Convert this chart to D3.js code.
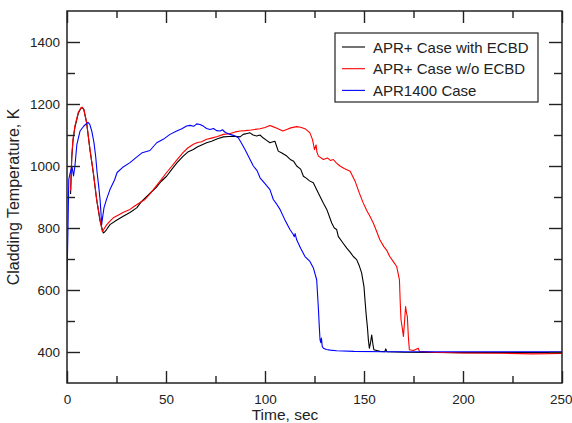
<!DOCTYPE html>
<html>
<head>
<meta charset="utf-8">
<script src="https://cdn.jsdelivr.net/npm/d3@7"></script>
<style>
  body { margin: 0; background: #fff; }
  svg text { font-family: "Liberation Sans", Arial, sans-serif; fill: #222; }
</style>
</head>
<body>
<svg id="chart" width="572" height="423"></svg>
<script>
// APR1400 Case (blue)
const blueT = [0, 0.5, 0.9, 1.5, 2.5, 3.3, 4.0, 5.0, 6.6, 8.5, 10.1, 10.6, 11.5, 12.5, 13.6, 14.5, 15.2, 16.0, 16.7, 17.2, 17.5, 18.0, 18.7, 20.0, 21.7, 24.0, 25.3, 28.0, 31.8, 35.0, 38.0, 41.9, 45.3, 48.6, 52.0, 55.4, 58.0, 60.4, 62.1, 64.0, 65.5, 67.2, 69.0, 70.5, 72.2, 74.0, 75.5, 77.3, 78.5, 80.0, 82.3, 84.5, 86.5, 88.0, 89.9, 92.0, 94.1, 96.0, 97.5, 100.0, 102.5, 104.2, 106.0, 107.6, 110.0, 112.6, 114.3, 114.8, 115.2, 116.0, 118.0, 120.2, 122.7, 124.5, 126.1, 126.6, 127.0, 127.4, 127.8, 128.2, 128.5, 128.9, 129.5, 131.0, 133.0, 136.2, 145, 160, 200, 250];
const blueK = [633, 800, 957, 975, 998, 968, 1000, 1070, 1113, 1129, 1138, 1141, 1134, 1113, 1076, 1030, 979, 935, 892, 845, 811, 835, 866, 893, 924, 955, 979, 995, 1011, 1028, 1043, 1050, 1075, 1086, 1102, 1113, 1120, 1129, 1131, 1128, 1136, 1134, 1128, 1121, 1118, 1121, 1114, 1113, 1117, 1108, 1102, 1098, 1091, 1075, 1053, 1027, 1000, 985, 962, 943, 924, 892, 876, 860, 827, 795, 779, 772, 782, 762, 735, 708, 692, 670, 633, 580, 536, 485, 439, 430, 445, 418, 412, 408, 406, 404, 402, 401, 401, 401];

// APR+ Case w/o ECBD (red)
const redT = [1.8, 2.4, 3.0, 4.0, 5.7, 7.0, 7.6, 8.5, 9.9, 11.6, 13.3, 15.0, 16.7, 17.8, 18.5, 20.0, 21.7, 23.4, 26.0, 28.5, 31.8, 34.0, 36.9, 39.4, 41.9, 45.0, 47.5, 50.3, 53.0, 55.5, 58.7, 61.0, 63.8, 66.0, 68.0, 70.5, 73.0, 76.0, 79.0, 82.0, 85.0, 87.4, 90.0, 93.0, 95.0, 97.5, 100.0, 102.5, 104.0, 106.0, 109.0, 111.0, 113.0, 116.0, 118.0, 120.5, 122.7, 124.0, 125.0, 125.8, 126.2, 127.0, 129.5, 131.5, 133.0, 134.5, 136.0, 137.9, 140.0, 143.0, 145.5, 147.5, 149.6, 151.5, 153.0, 154.7, 156.0, 158.0, 160.0, 161.5, 163.0, 165.0, 166.5, 167.9, 168.3, 168.7, 169.5, 169.9, 170.5, 171.0, 171.5, 171.9, 172.4, 172.9, 175.0, 177.4, 178.0, 185, 200, 220, 235, 250];
const redK = [920, 1032, 1085, 1129, 1173, 1187, 1190, 1183, 1141, 1054, 979, 892, 827, 789, 795, 810, 822, 833, 842, 851, 860, 870, 882, 892, 910, 935, 955, 979, 1000, 1020, 1044, 1058, 1070, 1076, 1078, 1086, 1090, 1095, 1102, 1104, 1110, 1113, 1114, 1116, 1118, 1120, 1124, 1131, 1127, 1122, 1113, 1118, 1123, 1127, 1125, 1119, 1107, 1085, 1053, 1068, 1045, 1032, 1021, 1026, 1018, 1021, 1010, 1000, 992, 983, 951, 915, 881, 855, 838, 816, 795, 762, 740, 728, 708, 690, 676, 633, 560, 504, 470, 450, 500, 547, 525, 514, 450, 407, 405, 412, 402, 399, 397, 396, 394, 395];

// APR+ Case with ECBD (black)
const blackT = [1.8, 2.4, 3.0, 4.0, 5.7, 7.0, 7.6, 8.5, 9.9, 11.6, 13.3, 15.0, 16.7, 18.3, 19.0, 20.0, 21.7, 25.0, 28.4, 31.8, 35.2, 37.7, 40.0, 41.9, 45.0, 47.5, 50.3, 53.0, 55.5, 58.7, 61.0, 63.8, 66.0, 68.0, 70.5, 73.0, 76.0, 79.0, 82.0, 85.0, 87.4, 89.0, 91.0, 92.4, 94.0, 95.8, 97.5, 99.0, 101.0, 102.5, 104.0, 105.0, 106.7, 108.5, 111.0, 113.0, 114.5, 116.0, 118.0, 119.4, 121.0, 122.5, 124.4, 126.0, 127.8, 129.5, 131.2, 133.7, 135.0, 136.2, 137.0, 139.0, 141.3, 143.0, 144.6, 146.3, 147.5, 148.8, 150.0, 150.5, 151.1, 151.7, 152.2, 152.7, 153.3, 153.9, 154.5, 155.0, 158.0, 160.5, 161.0, 161.5, 170, 200, 250];
const blackK = [910, 1025, 1080, 1125, 1170, 1186, 1188, 1182, 1140, 1052, 977, 890, 822, 784, 787, 795, 811, 825, 838, 850, 865, 886, 900, 912, 930, 950, 967, 990, 1010, 1032, 1045, 1053, 1062, 1068, 1075, 1080, 1088, 1094, 1095, 1096, 1094, 1102, 1105, 1107, 1100, 1097, 1100, 1091, 1082, 1075, 1078, 1080, 1048, 1042, 1032, 1020, 1015, 1000, 990, 967, 960, 952, 946, 925, 902, 880, 860, 816, 800, 795, 773, 755, 735, 722, 708, 698, 680, 655, 610, 568, 520, 482, 440, 412, 430, 455, 425, 407, 402, 401, 410, 401, 399, 398, 398];

const seriesNames = ["APR+ Case with ECBD", "APR+ Case w/o ECBD", "APR1400 Case"];
const seriesColors = ["#000000", "#ff0000", "#0000ff"];

const xMajor = [0, 50, 100, 150, 200, 250];
const xMinor = [25, 75, 125, 175, 225];
const yMajor = [400, 600, 800, 1000, 1200, 1400];
const yMinor = [500, 700, 900, 1100, 1300];

const frame = { left: 67, right: 562, top: 11, bottom: 383 };

const svg = d3.select("#chart");

const x = d3.scaleLinear().domain([0, 250]).range([frame.left, frame.right]);
const y = d3.scaleLinear().domain([300, 1500]).range([frame.bottom, frame.top]);

const line = d3.line().x(d => x(d[0])).y(d => y(d[1]));

const series = [
    d3.zip(blackT, blackK),
    d3.zip(redT, redK),
    d3.zip(blueT, blueK)
];

// clip lines to frame
svg.append("clipPath").attr("id", "clip")
   .append("rect")
   .attr("x", frame.left).attr("y", frame.top)
   .attr("width", frame.right - frame.left).attr("height", frame.bottom - frame.top);

svg.append("g").attr("clip-path", "url(#clip)")
   .selectAll("path")
   .data(series)
   .enter().append("path")
   .attr("d", line)
   .attr("fill", "none")
   .attr("stroke", (d, i) => seriesColors[i])
   .attr("stroke-width", 1.1)
   .attr("stroke-linejoin", "round");

// axes, ticks point inward on all four sides
function styleAxis(g) {
    g.select(".domain").remove();
    g.selectAll(".tick line").attr("stroke", "#222").attr("stroke-width", 1.4);
    g.selectAll(".tick text").style("font-size", "13.5px").attr("fill", "#222");
}

svg.append("g").attr("transform", `translate(${frame.left},0)`)
   .call(d3.axisLeft(y).tickValues(yMajor).tickSize(-13).tickPadding(7).tickFormat(d3.format("d")))
   .call(styleAxis);
svg.append("g").attr("transform", `translate(${frame.left},0)`)
   .call(d3.axisLeft(y).tickValues(yMinor).tickSize(-8).tickFormat(""))
   .call(styleAxis);
svg.append("g").attr("transform", `translate(${frame.right},0)`)
   .call(d3.axisRight(y).tickValues(yMajor).tickSize(-13).tickFormat(""))
   .call(styleAxis);
svg.append("g").attr("transform", `translate(${frame.right},0)`)
   .call(d3.axisRight(y).tickValues(yMinor).tickSize(-8).tickFormat(""))
   .call(styleAxis);

const xAxisG = svg.append("g").attr("transform", `translate(0,${frame.bottom})`)
   .call(d3.axisBottom(x).tickValues(xMajor).tickSize(-12).tickPadding(11).tickFormat(d3.format("d")))
   .call(styleAxis);
// last label sits at the window edge; keep it inside
xAxisG.selectAll(".tick text").filter(d => d === 250).attr("text-anchor", "end").attr("x", 10);

svg.append("g").attr("transform", `translate(0,${frame.bottom})`)
   .call(d3.axisBottom(x).tickValues(xMinor).tickSize(-7).tickFormat(""))
   .call(styleAxis);
svg.append("g").attr("transform", `translate(0,${frame.top})`)
   .call(d3.axisTop(x).tickValues(xMajor).tickSize(-12).tickFormat(""))
   .call(styleAxis);
svg.append("g").attr("transform", `translate(0,${frame.top})`)
   .call(d3.axisTop(x).tickValues(xMinor).tickSize(-7).tickFormat(""))
   .call(styleAxis);

// frame
svg.append("rect")
   .attr("x", frame.left).attr("y", frame.top)
   .attr("width", frame.right - frame.left).attr("height", frame.bottom - frame.top)
   .attr("fill", "none")
   .attr("stroke", "#222")
   .attr("stroke-width", 1.5);

// axis titles
svg.append("text")
   .attr("x", 285).attr("y", 420)
   .attr("text-anchor", "middle")
   .style("font-size", "15.5px")
   .text("Time, sec");

svg.append("text")
   .attr("transform", `translate(19,${(frame.top + frame.bottom) / 2}) rotate(-90)`)
   .attr("text-anchor", "middle")
   .style("font-size", "16px")
   .text("Cladding Temperature, K");

// legend
const legend = svg.append("g").attr("transform", "translate(335,33)");
legend.append("rect")
   .attr("width", 203).attr("height", 69)
   .attr("fill", "#fff")
   .attr("stroke", "#222")
   .attr("stroke-width", 1.2);

const item = legend.selectAll(".item")
   .data(seriesNames)
   .enter().append("g")
   .attr("class", "item")
   .attr("transform", (d, i) => `translate(0,${14 + i * 21.7})`);

item.append("line")
   .attr("x1", 7).attr("x2", 30)
   .attr("stroke", (d, i) => seriesColors[i])
   .attr("stroke-width", 1.1);

item.append("text")
   .attr("x", 38).attr("y", 5.5)
   .style("font-size", "15px")
   .text(d => d);
</script>
</body>
</html>
